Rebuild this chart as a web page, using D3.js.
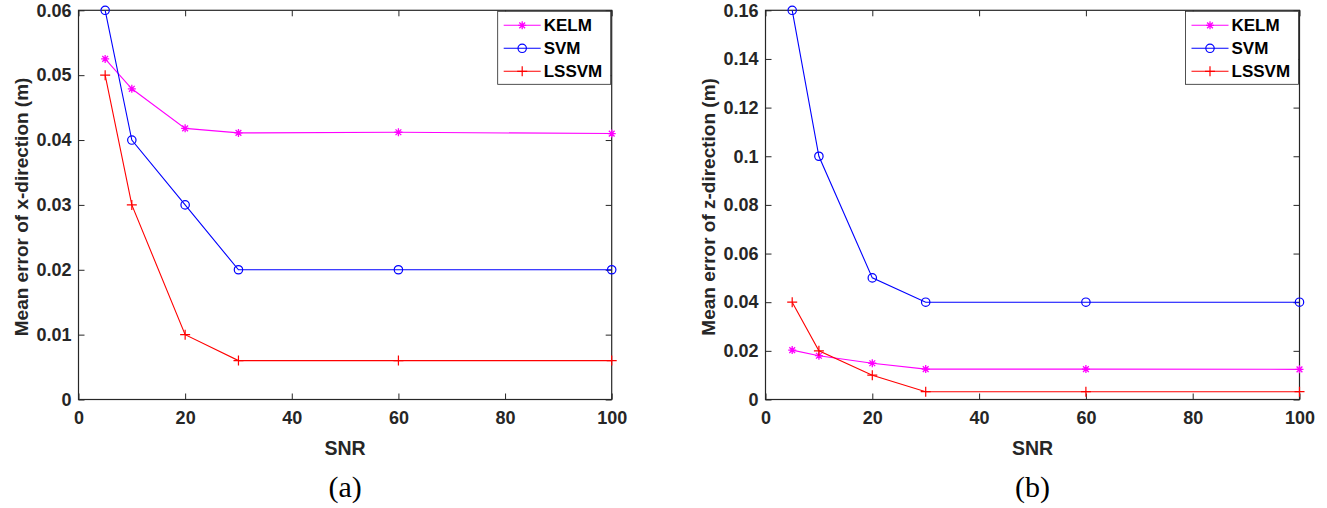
<!DOCTYPE html>
<html>
<head>
<meta charset="utf-8">
<script src="https://cdn.jsdelivr.net/npm/d3@7"></script>
<style>
  html, body { margin: 0; padding: 0; background: #fff; }
  svg { display: block; }
</style>
</head>
<body>
<svg id="chart" width="1327" height="508"></svg>
<script>
// SNR levels tested
const snr = [5, 10, 20, 30, 60, 100];

// (a) mean error in x-direction (m)
const kelmX  = [0.0525, 0.0479, 0.0418, 0.0411, 0.0412, 0.0410];
const svmX   = [0.060, 0.040, 0.030, 0.020, 0.020, 0.020];
const lssvmX = [0.050, 0.030, 0.010, 0.006, 0.006, 0.006];

// (b) mean error in z-direction (m)
const kelmZ  = [0.0203, 0.0180, 0.0149, 0.0125, 0.0125, 0.0124];
const svmZ   = [0.160, 0.100, 0.050, 0.040, 0.040, 0.040];
const lssvmZ = [0.040, 0.020, 0.010, 0.0032, 0.0032, 0.0032];

const xTicks = [0, 20, 40, 60, 80, 100];
const yTicksA = [0, 0.01, 0.02, 0.03, 0.04, 0.05, 0.06];
const yTicksB = [0, 0.02, 0.04, 0.06, 0.08, 0.1, 0.12, 0.14, 0.16];
const seriesNames = ["KELM", "SVM", "LSSVM"];
const seriesColors = ["#ff00ff", "#0000ff", "#ff0000"];
const markerTypes = ["star", "circle", "plus"];

const svg = d3.select("#chart");
const axisColor = "#262626";
const sans = "Arial, 'Liberation Sans', sans-serif";
const serif = "'Liberation Serif', 'Times New Roman', serif";

function marker(g, type, color, x, y) {
  if (type === "circle") {
    g.append("circle").attr("cx", x).attr("cy", y).attr("r", 4.2)
      .attr("fill", "none").attr("stroke", color).attr("stroke-width", 1.2);
  } else if (type === "plus") {
    const s = 5;
    g.append("path").attr("d", `M${x - s},${y}H${x + s}M${x},${y - s}V${y + s}`)
      .attr("stroke", color).attr("stroke-width", 1.2).attr("fill", "none");
  } else {
    const s = 4;
    const d = s * 0.72;
    g.append("path")
      .attr("d", `M${x - s},${y}H${x + s}M${x},${y - s}V${y + s}M${x - d},${y - d}L${x + d},${y + d}M${x - d},${y + d}L${x + d},${y - d}`)
      .attr("stroke", color).attr("stroke-width", 1.3).attr("fill", "none");
  }
}

function panel(opt) {
  const { left, right, top, bottom, yMax, yTicks, series, yLabel, caption } = opt;
  const g = svg.append("g");
  const x = d3.scaleLinear().domain([0, 100]).range([left, right]);
  const y = d3.scaleLinear().domain([0, yMax]).range([bottom, top]);
  const fmt = v => v === 0 ? "0" : d3.format("~g")(+v.toFixed(3));

  // box
  g.append("rect").attr("x", left).attr("y", top)
    .attr("width", right - left).attr("height", bottom - top)
    .attr("fill", "none").attr("stroke", axisColor).attr("stroke-width", 1.2);

  // bottom axis (ticks inward)
  const xa = g.append("g").attr("transform", `translate(0,${bottom})`)
    .call(d3.axisBottom(x).tickValues(xTicks).tickSize(-6).tickPadding(12).tickFormat(d3.format("d")));
  xa.select(".domain").remove();
  xa.selectAll("line").attr("stroke", axisColor);
  xa.selectAll("text").attr("fill", axisColor).attr("font-size", 18).attr("font-weight", "bold")
    .attr("font-family", sans);
  // top mirrored ticks
  const xt = g.append("g").attr("transform", `translate(0,${top})`)
    .call(d3.axisTop(x).tickValues(xTicks).tickSize(-6).tickFormat(""));
  xt.select(".domain").remove();
  xt.selectAll("line").attr("stroke", axisColor);

  // left axis
  const ya = g.append("g").attr("transform", `translate(${left},0)`)
    .call(d3.axisLeft(y).tickValues(yTicks).tickSize(-6).tickPadding(7).tickFormat(fmt));
  ya.select(".domain").remove();
  ya.selectAll("line").attr("stroke", axisColor);
  ya.selectAll("text").attr("fill", axisColor).attr("font-size", 18).attr("font-weight", "bold")
    .attr("font-family", sans);
  // right mirrored ticks
  const yr = g.append("g").attr("transform", `translate(${right},0)`)
    .call(d3.axisRight(y).tickValues(yTicks).tickSize(-6).tickFormat(""));
  yr.select(".domain").remove();
  yr.selectAll("line").attr("stroke", axisColor);

  // lines and markers
  const line = d3.line().x((d, i) => x(snr[i])).y(d => y(d));
  series.forEach((vals, k) => {
    g.append("path").datum(vals).attr("d", line)
      .attr("fill", "none").attr("stroke", seriesColors[k]).attr("stroke-width", 1.1);
    const mg = g.append("g");
    vals.forEach((v, i) => marker(mg, markerTypes[k], seriesColors[k], x(snr[i]), y(v)));
  });

  // legend
  const lx = right - 114, ly = top + 1, lw = 113, lh = 73;
  const lg = g.append("g");
  lg.append("rect").attr("x", lx).attr("y", ly).attr("width", lw).attr("height", lh)
    .attr("fill", "#fff").attr("stroke", "#262626").attr("stroke-width", 0.8);
  seriesNames.forEach((name, k) => {
    const yy = ly + 14 + k * 23;
    lg.append("line").attr("x1", lx + 6).attr("x2", lx + 43).attr("y1", yy).attr("y2", yy)
      .attr("stroke", seriesColors[k]).attr("stroke-width", 1.1);
    marker(lg, markerTypes[k], seriesColors[k], lx + 24.5, yy);
    lg.append("text").attr("x", lx + 46).attr("y", yy + 6).text(name)
      .attr("font-family", sans).attr("font-size", 17).attr("font-weight", "bold").attr("fill", "#000");
  });

  // axis titles
  g.append("text").attr("x", (left + right) / 2).attr("y", bottom + 55)
    .attr("text-anchor", "middle").attr("font-family", sans).attr("font-size", 19.5)
    .attr("font-weight", "bold").attr("fill", axisColor).text("SNR");
  g.append("text")
    .attr("transform", `translate(${left - 51},${(top + bottom) / 2 + 2}) rotate(-90)`)
    .attr("text-anchor", "middle").attr("font-family", sans).attr("font-size", 19)
    .attr("font-weight", "bold").attr("fill", axisColor).text(yLabel);
  g.append("text").attr("x", (left + right) / 2).attr("y", 497)
    .attr("text-anchor", "middle").attr("font-family", serif).attr("font-size", 30)
    .attr("fill", "#000").text(caption);
}

panel({
  left: 78.5, right: 611.7, top: 10.3, bottom: 399.5, yMax: 0.06, yTicks: yTicksA,
  series: [kelmX, svmX, lssvmX], yLabel: "Mean error of x-direction (m)", caption: "(a)"
});
panel({
  left: 765.5, right: 1299.5, top: 10.3, bottom: 399.5, yMax: 0.16, yTicks: yTicksB,
  series: [kelmZ, svmZ, lssvmZ], yLabel: "Mean error of z-direction (m)", caption: "(b)"
});
</script>
</body>
</html>
